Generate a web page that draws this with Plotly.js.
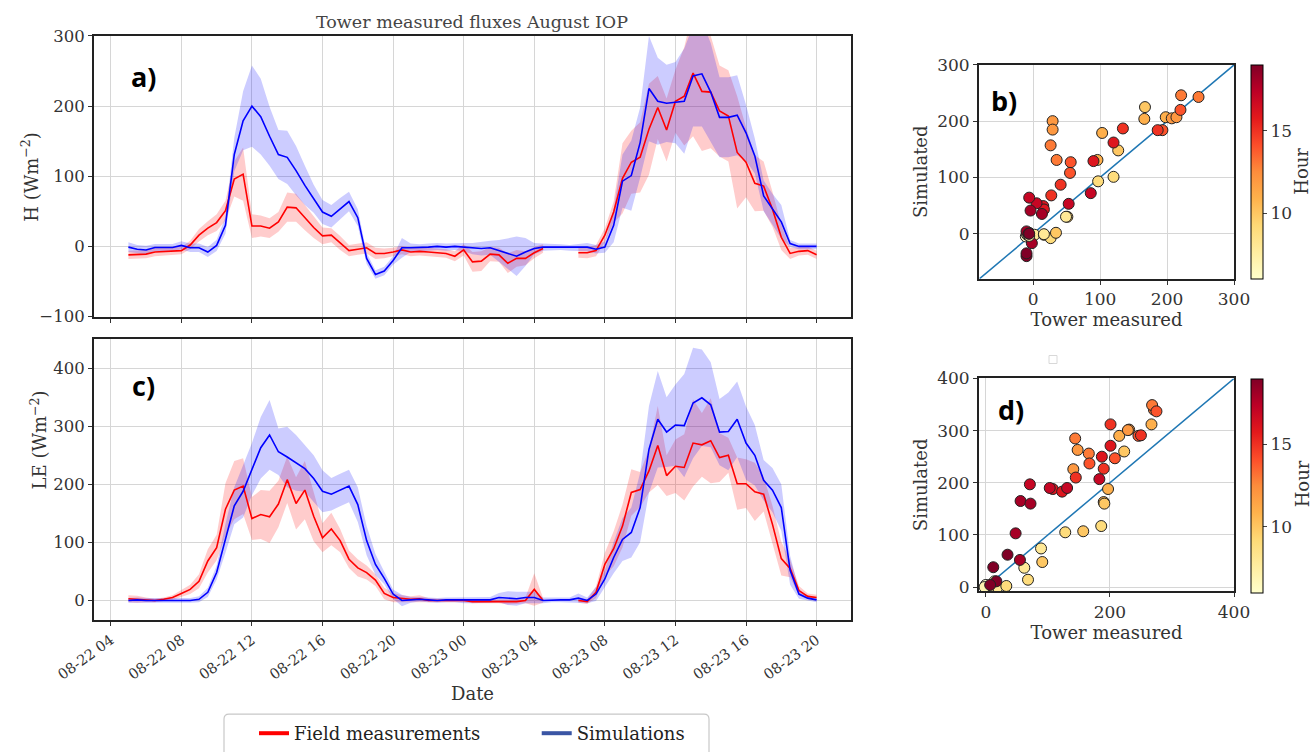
<!DOCTYPE html>
<html>
<head>
<meta charset="utf-8">
<script src="https://cdn.plot.ly/plotly-3.0.1.min.js"></script>
<style>html,body{margin:0;padding:0;background:#fff;}#chart{width:1312px;height:752px;}</style>
</head>
<body>
<div id="chart"></div>
<script>
// ---- Data (half-hourly, 08-22 05:00 to 08-23 20:00) ----
const startLabel = "2021-08-22 05:00";
const stepMinutes = 30;
const nSteps = 79;

// Sensible heat flux H (W m-2)
const hObs = [
  -12,-12,-11,-8,-7,-7,-6,2,16,26,
  34,51,96,103,29,29,26,35,56,55,
  41,27,15,16,5,-6,-4,-2,-10,-10,
  -8,-5,-8,-7,-8,-9,-10,-14,-5,-22,
  -21,-11,-12,-24,-17,-17,-9,-3,null,null,
  null,-9,-9,-6,16,49,97,120,127,167,
  198,166,207,214,247,221,220,193,186,134,
  120,90,86,53,13,-10,-7,-6,-12
];
const hObsSd = [
  6,6,6,6,5,5,5,6,9,10,
  12,14,25,38,17,15,14,14,21,20,
  18,15,12,10,10,8,8,8,8,7,
  6,6,6,6,6,6,6,7,8,14,
  14,10,10,14,12,10,8,6,null,null,
  null,7,8,8,10,15,50,45,50,65,
  45,45,45,70,90,85,80,65,65,80,
  50,40,35,25,18,8,6,6,6
];
const hSim = [
  -1,-4,-5,-1.5,-1.5,-1.5,1.5,-2,-2,-8,
  1.5,30,131,179,200,185,157,131,127,108,
  87,68,49,43,54,64,41,-17,-40,-35,
  -20,-2,-2,-2,-1,0,-1,0,-1,-3,
  -3,-2,-6,-10,-14,-8,-3,-1,-1,-1,
  -2,-2,-1,-4,-1,30,93,101,148,225,
  207,204,205,207,243,246,220,184,184,187,
  162,129,72,53,35,4,0,0,0
];
const hSimSd = [
  7,6,6,5,5,5,6,6,6,7,
  8,12,24,42,58,54,42,35,38,35,
  28,20,17,16,15,14,12,8,6,6,
  6,14,6,5,5,5,5,5,6,8,
  10,10,15,22,28,20,8,5,5,4,
  4,5,6,6,8,24,38,50,50,75,
  62,55,58,75,72,75,70,57,57,57,
  40,25,22,22,24,5,4,4,4
];

// Latent heat flux LE (W m-2)
const leObs = [
  3,2,1,0,2,5,12,19,33,68,
  91,157,190,197,141,148,144,166,208,167,
  190,145,108,123,103,71,56,48,35,12,
  5,3,2,3,0,0,0,0,0,-2,
  -2,-2,-2,-3,-2,0,19,0,null,null,
  null,0,-2,14,62,89,128,186,191,223,
  267,215,231,229,271,268,275,246,250,201,
  201,187,183,131,72,55,17,7,5
];
const leObsSd = [
  6,6,4,3,3,4,6,8,12,20,
  22,45,50,48,37,42,45,40,40,45,
  50,43,25,28,20,15,15,12,10,10,
  8,6,5,6,4,3,3,3,3,3,
  3,3,3,4,4,5,28,4,null,null,
  null,4,4,10,20,30,37,40,30,37,
  68,35,46,57,75,55,73,42,30,45,
  42,50,30,32,29,15,8,5,5
];
const leSim = [
  0,1,0,0,1,0,0,0,2,14,
  48,107,163,188,226,263,285,256,247,237,
  227,210,188,183,190,197,165,103,62,38,
  11,0,1,2,1,0,1,1,0,0,
  0,1,5,4,3,5,5,0,1,1,
  1,4,0,11,37,74,105,117,160,260,
  312,290,302,301,340,349,337,290,291,312,
  271,250,207,190,160,52,11,4,1
];
const leSimSd = [
  4,4,4,4,4,4,4,4,5,8,
  12,25,32,45,45,53,60,40,52,48,
  40,40,36,28,28,28,30,25,18,10,
  8,10,5,4,4,4,4,4,5,5,
  5,5,8,12,12,10,10,5,4,4,
  4,8,5,12,15,27,37,43,60,75,
  83,60,70,89,95,83,73,57,67,65,
  63,52,35,38,40,25,8,4,4
];

const hourRange = [6, 19];
const oneToOneB = [-80, 300];
const oneToOneD = [-10, 400];
const xTickFormat = "%m-%d %H";
const seriesNames = ["Field measurements", "Simulations"];

// ---- Build time grid ----
function pad(n){ return (n<10?"0":"")+n; }
const times = [];
const hourOfDay = [];
{
  const base = new Date(startLabel.replace(" ","T")+":00Z");
  for (let i=0;i<nSteps;i++){
    const d = new Date(base.getTime() + i*stepMinutes*60000);
    times.push(d.getUTCFullYear()+"-"+pad(d.getUTCMonth()+1)+"-"+pad(d.getUTCDate())+" "+pad(d.getUTCHours())+":"+pad(d.getUTCMinutes()));
    hourOfDay.push(d.getUTCHours());
  }
}

function bandTraces(mean, sd, fill, xa, ya){
  const out = [];
  let seg = [];
  const flush = () => {
    if (seg.length){
      const xs = seg.map(i=>times[i]).concat(seg.slice().reverse().map(i=>times[i]));
      const ys = seg.map(i=>mean[i]+sd[i]).concat(seg.slice().reverse().map(i=>mean[i]-sd[i]));
      out.push({x:xs,y:ys,type:"scatter",mode:"lines",fill:"toself",fillcolor:fill,
        line:{width:0,color:fill},hoverinfo:"skip",showlegend:false,xaxis:xa,yaxis:ya});
    }
    seg = [];
  };
  for (let i=0;i<mean.length;i++){
    if (mean[i]===null || sd[i]===null){ flush(); } else seg.push(i);
  }
  flush();
  return out;
}
function lineTrace(vals,color,xa,ya){
  return {x:times,y:vals,type:"scatter",mode:"lines",line:{color:color,width:1.6},
    connectgaps:false,showlegend:false,xaxis:xa,yaxis:ya,hoverinfo:"x+y"};
}
function scatterPts(obs, sim){
  const xs=[],ys=[],cs=[];
  for (let i=0;i<obs.length;i++){
    if (obs[i]===null || sim[i]===null) continue;
    const h = hourOfDay[i];
    if (h>=hourRange[0] && h<=hourRange[1]){ xs.push(obs[i]); ys.push(sim[i]); cs.push(h); }
  }
  return {xs,ys,cs};
}

const RED="#ff0000", BLUE="#0000ff";
const RBAND="rgba(255,0,0,0.2)", BBAND="rgba(0,0,255,0.2)";
const ylorrd = [[0,'#ffffcc'],[0.125,'#ffeda0'],[0.25,'#fed976'],[0.375,'#feb24c'],[0.5,'#fd8d3c'],[0.625,'#fc4e2a'],[0.75,'#e31a1c'],[0.875,'#bd0026'],[1,'#800026']];
const SERIF = "DejaVu Serif, serif";
const tickFont = {family:SERIF,size:16.5,color:"#333"};
const titleFont = {family:SERIF,size:18,color:"#333"};
const scTickFont = {family:SERIF,size:17,color:"#333"};
const scTitleFont = {family:SERIF,size:18,color:"#333"};

const traces = [];
traces.push(...bandTraces(hObs,hObsSd,RBAND,"x","y"));
traces.push(...bandTraces(hSim,hSimSd,BBAND,"x","y"));
traces.push(lineTrace(hObs,RED,"x","y"));
traces.push(lineTrace(hSim,BLUE,"x","y"));
traces.push(...bandTraces(leObs,leObsSd,RBAND,"x2","y2"));
traces.push(...bandTraces(leSim,leSimSd,BBAND,"x2","y2"));
traces.push(lineTrace(leObs,RED,"x2","y2"));
traces.push(lineTrace(leSim,BLUE,"x2","y2"));

function cbar(yc){
  return {thickness:12,thicknessmode:"pixels",len:214,lenmode:"pixels",x:1251/1312,xanchor:"left",
    y:yc,yanchor:"middle",outlinewidth:1,outlinecolor:"#000",tickvals:[10,15],ticks:"outside",ticklen:4,
    tickfont:{family:SERIF,size:17,color:"#333"},xpad:0,ypad:0};
}
const sb = scatterPts(hObs,hSim);
traces.push({x:oneToOneB,y:oneToOneB,type:"scatter",mode:"lines",line:{color:"#1f77b4",width:1.5},showlegend:false,xaxis:"x3",yaxis:"y3",hoverinfo:"skip"});
traces.push({x:sb.xs,y:sb.ys,type:"scatter",mode:"markers",xaxis:"x3",yaxis:"y3",showlegend:false,
  marker:{size:11,color:sb.cs,colorscale:ylorrd,cmin:hourRange[0],cmax:hourRange[1],line:{color:"#222",width:1},
  showscale:true,colorbar:cbar(1-172/752)}});
const sd = scatterPts(leObs,leSim);
traces.push({x:oneToOneD,y:oneToOneD,type:"scatter",mode:"lines",line:{color:"#1f77b4",width:1.5},showlegend:false,xaxis:"x4",yaxis:"y4",hoverinfo:"skip"});
traces.push({x:sd.xs,y:sd.ys,type:"scatter",mode:"markers",xaxis:"x4",yaxis:"y4",showlegend:false,
  marker:{size:11,color:sd.cs,colorscale:ylorrd,cmin:hourRange[0],cmax:hourRange[1],line:{color:"#222",width:1},
  showscale:true,colorbar:cbar(1-485.5/752)}});

// legend entries
const NB = "\u00a0";
traces.push({x:[null],y:[null],type:"scatter",mode:"lines",name:seriesNames[0]+NB.repeat(9),line:{color:"#ff0000",width:4},xaxis:"x",yaxis:"y"});
traces.push({x:[null],y:[null],type:"scatter",mode:"lines",name:seriesNames[1],line:{color:"#3a55a4",width:4},xaxis:"x",yaxis:"y"});

const W=1312,H=752;
const px = v=>v/W, py = v=>1-v/H;
const frame = {showline:true,mirror:true,linecolor:"#222",linewidth:2,gridcolor:"#d6d6d6",gridwidth:1,zeroline:false,
  ticks:"outside",ticklen:4,tickcolor:"#333",tickfont:tickFont};
const timeRange = ["2021-08-22 03:03","2021-08-23 21:57"];
const LBL = {family:"Open Sans, Lato, sans-serif",size:27,color:"#000"};
function ann(text,x,y,font,extra){
  return Object.assign({text:text,x:px(x),y:py(y),xref:"paper",yref:"paper",xanchor:"center",yanchor:"middle",showarrow:false,font:font},extra||{});
}
// rounded legend frame (open at the bottom edge like the reference)
const lf = {x0:224,x1:709,y0:715,r:5};
const legendFramePath = "M"+px(lf.x0)+","+py(760)+" L"+px(lf.x0)+","+py(lf.y0+lf.r)+
  " Q"+px(lf.x0)+","+py(lf.y0)+" "+px(lf.x0+lf.r)+","+py(lf.y0)+
  " L"+px(lf.x1-lf.r)+","+py(lf.y0)+" Q"+px(lf.x1)+","+py(lf.y0)+" "+px(lf.x1)+","+py(lf.y0+lf.r)+
  " L"+px(lf.x1)+","+py(760);

const layout = {
  width:W,height:H,autosize:false,margin:{l:0,r:0,t:0,b:0},paper_bgcolor:"#fff",plot_bgcolor:"#fff",
  font:{family:SERIF,color:"#333"},
  title:{text:"Tower measured fluxes August IOP",x:472/W,xanchor:"center",y:1-22/H,yanchor:"middle",
    font:{family:SERIF,size:17.5,color:"#444"}},
  xaxis:Object.assign({},frame,{domain:[px(94),px(851)],anchor:"y",type:"date",range:timeRange,
    tick0:"2021-08-22 00:00",dtick:4*3600000,showticklabels:false}),
  yaxis:Object.assign({},frame,{domain:[py(317),py(36)],anchor:"x",range:[-100,300],dtick:100}),
  xaxis2:Object.assign({},frame,{domain:[px(94),px(851)],anchor:"y2",type:"date",range:timeRange,
    tick0:"2021-08-22 00:00",dtick:4*3600000,tickformat:xTickFormat,tickangle:-36,
    tickfont:{family:SERIF,size:14.5,color:"#333"},
    title:{text:"Date",font:titleFont,standoff:6}}),
  yaxis2:Object.assign({},frame,{domain:[py(621),py(339)],anchor:"x2",range:[-34,451],dtick:100}),
  xaxis3:Object.assign({},frame,{domain:[px(979),px(1234)],anchor:"y3",range:[-81,300],tickvals:[0,100,200,300],
    tickfont:scTickFont,title:{text:"Tower measured",font:scTitleFont,standoff:3}}),
  yaxis3:Object.assign({},frame,{domain:[py(279),py(65)],anchor:"x3",range:[-80,300],tickvals:[0,100,200,300],
    tickfont:scTickFont,title:{text:"Simulated",font:scTitleFont,standoff:5}}),
  xaxis4:Object.assign({},frame,{domain:[px(979),px(1234)],anchor:"y4",range:[-11,400],tickvals:[0,200,400],
    tickfont:scTickFont,title:{text:"Tower measured",font:scTitleFont,standoff:3}}),
  yaxis4:Object.assign({},frame,{domain:[py(592),py(379)],anchor:"x4",range:[-8,400],tickvals:[0,100,200,300,400],
    tickfont:scTickFont,title:{text:"Simulated",font:scTitleFont,standoff:5}}),
  showlegend:true,
  legend:{orientation:"h",x:px(254),xanchor:"left",y:py(716),yanchor:"top",borderwidth:0,
    bgcolor:"rgba(0,0,0,0)",font:{family:SERIF,size:18,color:"#222"}},
  annotations:[
    ann("H (Wm<sup>−2</sup>)",30,177,titleFont,{textangle:-90}),
    ann("LE (Wm<sup>−2</sup>)",39,441,titleFont,{textangle:-90}),
    ann("<b>a)</b>",143,77,LBL),
    ann("<b>c)</b>",143,386,LBL),
    ann("<b>b)</b>",1004,101,LBL),
    ann("<b>d)</b>",1011,410,LBL),
    ann("Hour",1302,172,{family:SERIF,size:18,color:"#333"},{textangle:-90}),
    ann("Hour",1302,485,{family:SERIF,size:18,color:"#333"},{textangle:-90})
  ],
  shapes:[
    {type:"rect",xref:"paper",yref:"paper",x0:px(1049),x1:px(1057),y0:py(364),y1:py(356),line:{color:"#d8d8d8",width:1}},
    {type:"path",xref:"paper",yref:"paper",path:legendFramePath,line:{color:"#c8c8c8",width:1.2}}
  ]
};

Plotly.newPlot("chart",traces,layout,{displayModeBar:false,staticPlot:true});
</script>
</body>
</html>
